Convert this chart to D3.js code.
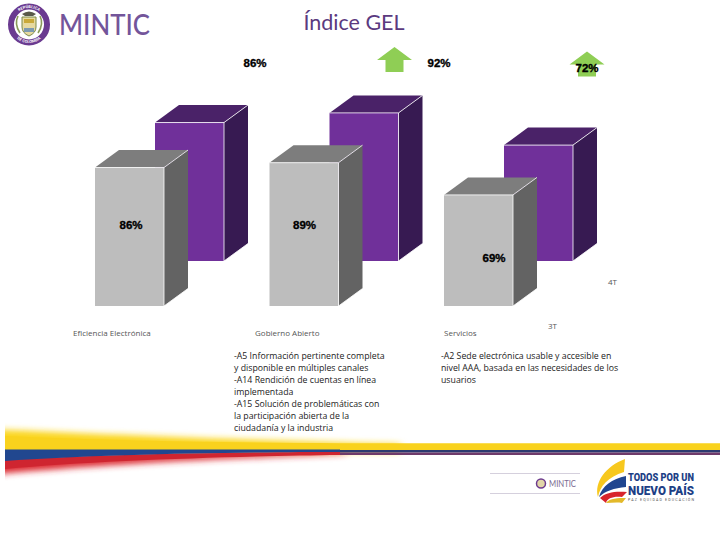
<!DOCTYPE html>
<html><head><meta charset="utf-8">
<script src="https://cdnjs.cloudflare.com/ajax/libs/d3/7.8.5/d3.min.js"></script>
<style>html,body{margin:0;padding:0;background:#fff}svg{display:block}</style>
</head><body><svg id="c" width="720" height="540"></svg>
<script>
const categories = ["Eficiencia Electrónica","Gobierno Abierto","Servicios"];
const values4T = [86,92,72];
const values3T = [86,89,69];
const labels4T = ["86%","92%","72%"];
const labels3T = ["86%","89%","69%"];
const seriesNames = ["4T","3T"];
const notesGobierno = ["-A5 Información pertinente completa","y disponible en múltiples canales","-A14 Rendición de cuentas en línea","implementada","-A15 Solución de problemáticas con","la participación abierta de la","ciudadanía y la industria"];
const notesServicios = ["-A2 Sede electrónica usable y accesible en","nivel AAA, basada en las necesidades de los","usuarios"];

const svg = d3.select("#c");
const defs = svg.append("defs");
const FONT = "'Open Sans',sans-serif";

// 3D columns
const h = d3.scaleLinear().domain([0,100]).range([0,161]);
const xFront = d3.scalePoint().domain(categories).range([95,444]);
const xBack = d3.scalePoint().domain(categories).range([155,504]);
const W = 69, DX = 24, DY = 17.5;
function bar(g,x0,base,v,cols){
  const top = base-h(v);
  const p = a=>a.map(q=>q.join(",")).join(" ");
  g.append("polygon").attr("points",p([[x0,top],[x0+DX,top-DY],[x0+W+DX,top-DY],[x0+W,top]])).attr("fill",cols[1]);
  g.append("polygon").attr("points",p([[x0+W,top],[x0+W+DX,top-DY],[x0+W+DX,base-DY],[x0+W,base]])).attr("fill",cols[2]);
  g.append("rect").attr("x",x0).attr("y",top).attr("width",W).attr("height",base-top).attr("fill",cols[0]);
  g.append("path").attr("d",`M${x0},${top}H${x0+W}V${base}M${x0+W},${top}L${x0+W+DX},${top-DY}M${x0+W},${base}L${x0+W+DX},${base-DY}`).attr("fill","none").attr("stroke","#fff").attr("stroke-width",0.8);
}
const purple=["#70309a","#4a2268","#371a52"], grey=["#bdbdbd","#7d7d7d","#636363"];
const gb = svg.append("g");
categories.forEach((c,i)=>{
  bar(gb,xBack(c),261,values4T[i],purple);
  bar(gb,xFront(c),306,values3T[i],grey);
});

// green arrows
function arrow(cx,y0){
  svg.append("path").attr("d",`M${cx-17.5},${y0+13}L${cx},${y0}L${cx+17.5},${y0+13}H${cx+9}V${y0+25}H${cx-9}V${y0+13}Z`).attr("fill","#8fce55");
}
arrow(394.5,47); arrow(587,51.5);

// data labels
const lab4 = [[255,63],[439,63],[587,68]], lab3=[[131,224.5],[304.5,225],[494,258]];
function vlabel(t,p){
  svg.append("text").attr("x",p[0]).attr("y",p[1]).attr("dy","0.35em").attr("text-anchor","middle")
   .attr("font-family","'Liberation Sans',Arial,sans-serif").attr("font-size",11.5).attr("font-weight",700)
   .attr("fill","#000").attr("stroke","#000").attr("stroke-width",0.35).text(t);
}
labels4T.forEach((t,i)=>vlabel(t,lab4[i]));
labels3T.forEach((t,i)=>vlabel(t,lab3[i]));

// category + series labels
const small=(t,xx,yy)=>svg.append("text").attr("x",xx).attr("y",yy).attr("font-family",FONT).attr("font-size",8).attr("fill","#555").text(t);
small(categories[0],73,336); small(categories[1],255,336); small(categories[2],444,336);
small(seriesNames[0],608,285); small(seriesNames[1],548,329);

// notes
const note=(arr,xx,yy)=>arr.forEach((t,i)=>svg.append("text").attr("x",xx).attr("y",yy+i*12).attr("font-family",FONT).attr("font-size",8.75).attr("fill","#222").text(t));
note(notesGobierno,234,358.5);
note(notesServicios,441,358.5);

// title
svg.append("text").attr("x",354).attr("y",30).attr("text-anchor","middle").attr("font-family","Lato,sans-serif").attr("font-size",21.5).attr("fill","#5b3a80").text("Índice GEL");

// header logo
svg.append("circle").attr("cx",29).attr("cy",24.5).attr("r",18).attr("fill","#fff").attr("stroke","#6a3a90").attr("stroke-width",6);
defs.append("path").attr("id","ringArc").attr("d","M12.5,24.5A16.5,16.5 0 1 1 45.5,24.5");
defs.append("path").attr("id","ringArc2").attr("d","M10.5,24.5A18.5,18.5 0 0 0 47.5,24.5");
svg.append("text").attr("font-family","Roboto,sans-serif").attr("font-size",4).attr("font-weight",700).attr("fill","#fff").append("textPath").attr("href","#ringArc").attr("startOffset","50%").attr("text-anchor","middle").text("REPÚBLICA");
svg.append("text").attr("font-family","Roboto,sans-serif").attr("font-size",4).attr("font-weight",700).attr("fill","#fff").append("textPath").attr("href","#ringArc2").attr("startOffset","50%").attr("text-anchor","middle").text("DE COLOMBIA");
svg.append("path").attr("d","M22,17H36V27Q36,33 29,36Q22,33 22,27Z").attr("fill","#e6d9a0").attr("stroke","#7b8a4a").attr("stroke-width",1);
svg.append("rect").attr("x",24).attr("y",19).attr("width",10).attr("height",4).attr("fill","#c9a93a");
svg.append("rect").attr("x",24).attr("y",28).attr("width",10).attr("height",4).attr("fill","#7d9ab0");
svg.append("path").attr("d","M18,16Q14,24 20,33M40,16Q44,24 38,33").attr("fill","none").attr("stroke","#8a9a5a").attr("stroke-width",1.6);
svg.append("path").attr("d","M22,14Q29,9 36,14L33,16H25Z").attr("fill","#5a5a4a");
svg.append("text").attr("x",59).attr("y",35).attr("font-family","Lato,sans-serif").attr("font-size",28).attr("font-weight",500).attr("fill","#73559a").attr("textLength",91).attr("lengthAdjust","spacingAndGlyphs").text("MINTIC");

// swooshes
const clip=defs.append("clipPath").attr("id","cl");
clip.append("rect").attr("x",5).attr("y",415).attr("width",715).attr("height",70);
const fb=defs.append("filter").attr("id","b").attr("x","-5%").attr("y","-100%").attr("width","110%").attr("height","300%");
fb.append("feGaussianBlur").attr("stdDeviation","4 3.2");
const sw=svg.append("g").attr("clip-path","url(#cl)");
sw.append("path").attr("d","M-10,429C100,434 260,441 400,444V452H-10Z").attr("fill","#fbd51e").attr("filter","url(#b)");
sw.append("path").attr("d","M-10,462C100,455 240,452 345,452V454C240,458 100,464 -10,475Z").attr("fill","#dc2a30").attr("filter","url(#b)");
sw.append("path").attr("d","M5,460C100,454 250,452 340,452V455C250,456 100,460 5,469Z").attr("fill","#cf2530");
sw.append("path").attr("d","M5,436C100,440 200,442.5 340,443.3H720V450H5Z").attr("fill","#f9d21d");
sw.append("path").attr("d","M5,449.5H340V452C250,452 100,454 5,461Z").attr("fill","#21478f");
sw.append("rect").attr("x",340).attr("y",450).attr("width",380).attr("height",2.5).attr("fill","#2c3a70");
sw.append("rect").attr("x",340).attr("y",452.5).attr("width",380).attr("height",2.5).attr("fill","#6e3a6a");

// footer
svg.append("line").attr("x1",490).attr("x2",580).attr("y1",473.5).attr("y2",473.5).attr("stroke","#d5d0dd");
svg.append("line").attr("x1",490).attr("x2",580).attr("y1",493.5).attr("y2",493.5).attr("stroke","#d5d0dd");
svg.append("circle").attr("cx",541).attr("cy",483.5).attr("r",4.5).attr("fill","#e2d6a8").attr("stroke","#6d3a8e").attr("stroke-width",1.5);
svg.append("text").attr("x",549).attr("y",487).attr("font-family","Lato,sans-serif").attr("font-size",8.5).attr("fill","#7a6a90").attr("textLength",27).attr("lengthAdjust","spacingAndGlyphs").text("MINTIC");
svg.append("path").attr("d","M625,459C606,466 594,482 598,497C600,486 608,477 624,472Z").attr("fill","#f7c81e");
svg.append("path").attr("d","M626,476C612,479 602,486 599,497C605,491 614,488 626,487Z").attr("fill","#20458f");
svg.append("path").attr("d","M600,498C606,492 616,491 627,492L622,497C614,496 607,498 606,503Z").attr("fill","#d8242c");
svg.append("path").attr("d","M606,503C610,498 618,498 626,498L622,503C617,502 611,503 606,503Z").attr("fill","#e3b92a");
svg.append("text").attr("x",628).attr("y",481).attr("font-family","Roboto,sans-serif").attr("font-size",10.5).attr("font-weight",900).attr("fill","#1d3f86").attr("textLength",66).attr("lengthAdjust","spacingAndGlyphs").text("TODOS POR UN");
svg.append("text").attr("x",628).attr("y",494.5).attr("font-family","Roboto,sans-serif").attr("font-size",12).attr("font-weight",900).attr("fill","#1d3f86").attr("textLength",66).attr("lengthAdjust","spacingAndGlyphs").text("NUEVO PAÍS");
svg.append("text").attr("x",628).attr("y",501).attr("font-family","Roboto,sans-serif").attr("font-size",3.6).attr("fill","#555").attr("textLength",66).attr("lengthAdjust","spacing").text("PAZ   EQUIDAD   EDUCACIÓN");
</script></body></html>
